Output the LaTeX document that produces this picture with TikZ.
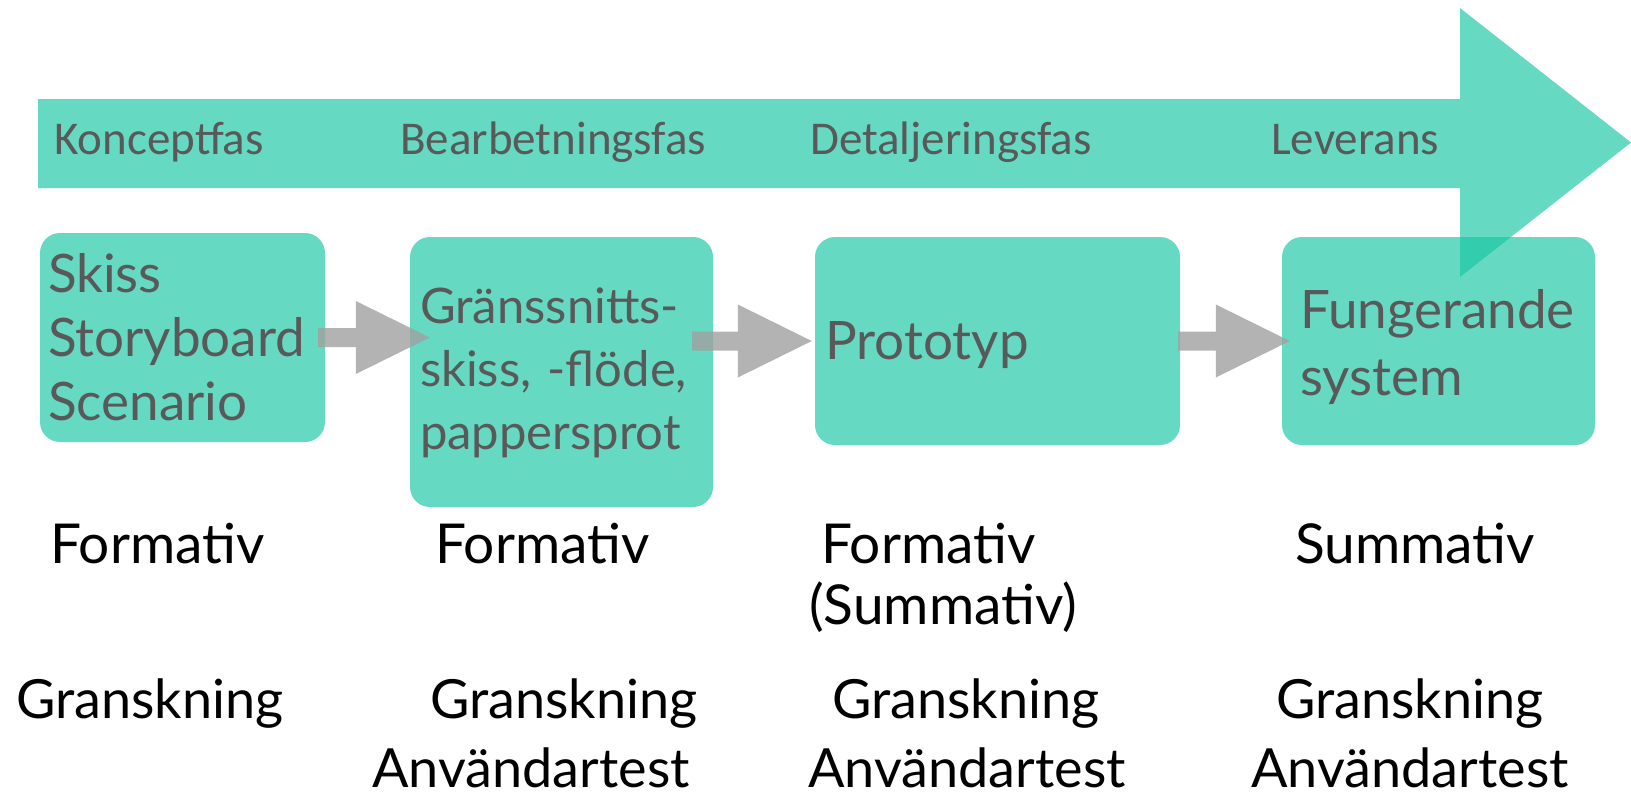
\documentclass[tikz,border=0pt]{standalone}
\usepackage{fontspec}
\setmainfont{Lato}
\newfontfamily\phasefont{Carlito}
\usetikzlibrary{arrows.meta}
\definecolor{flowgreen}{RGB}{26,198,163}
\definecolor{labelgray}{RGB}{89,89,89}
\definecolor{arrowgray}{RGB}{160,160,160}

\begin{document}
\begin{tikzpicture}[x=1pt,y=1pt,yscale=-1,xscale=1,
	stagebox/.style={rounded corners=20pt,fill=flowgreen,fill opacity=0.67,text opacity=1,text=labelgray,align=left,inner ysep=0pt,font=\fontsize{53}{64}\selectfont},
	phaselabel/.style={anchor=base west,inner sep=0pt,text=labelgray,font=\phasefont\fontsize{47}{56}\selectfont},
	evaltext/.style={anchor=base west,inner sep=0pt,font=\fontsize{55}{60}\selectfont},
	methodtext/.style={anchor=base west,inner sep=0pt,font=\fontsize{54}{60}\selectfont},
	flowarrow/.style={draw=arrowgray,line width=19pt,-{Triangle[width=73pt,length=74pt,line width=0pt]}}]
	\useasboundingbox (0,0) rectangle (1631,796);
	
	%Big arrow
	\fill[flowgreen,fill opacity=0.67] (38,99) -- (1460,99) -- (1460,8) -- (1631,142.5) -- (1460,277) -- (1460,188) -- (38,188) -- cycle;
	
	% Phase labels
	\node[phaselabel] (konzept) at (54,154) {Konceptfas};
	\node[phaselabel] (bearb) at (400,154) {Bearbetningsfas};
	\node[phaselabel] (detalj) at (810,154) {Detaljeringsfas};
	\node[phaselabel] (lever) at (1271,154) {Leverans};
	
	%Rounded Rect
	\node[stagebox,text width=269pt,inner xsep=8pt,minimum height=209pt] (skiss) at (182.5,337.5) {Skiss\\Storyboard\\Scenario};
	%Rounded Rect
	\node[stagebox,text width=283pt,inner xsep=10pt,minimum height=270pt,text depth=132pt,font=\fontsize{49}{63}\selectfont] (gui) at (561.5,372) {Gränssnitts-\\skiss, -flöde,\\pappersprot};
	%Rounded Rect
	\node[stagebox,text width=345pt,inner xsep=10pt,minimum height=208pt,text depth=0pt] (proto) at (997.5,341) {Prototyp};
	%Rounded Rect
	\node[stagebox,text width=277pt,inner xsep=18pt,minimum height=208pt,text depth=64pt,font=\fontsize{53}{67}\selectfont] (system) at (1438.5,341) {Fungerande\\system};
	
	%Gray arrows
	\begin{scope}[transparency group,opacity=0.8]
		\draw[flowarrow] ([xshift=-7pt]skiss.east) -- ([xshift=20pt]skiss.east -| gui.west);
		\draw[flowarrow] ([xshift=-21pt]proto.west -| gui.east) -- ([xshift=-3pt]proto.west);
		\draw[flowarrow] ([xshift=-2pt]proto.east) -- ([xshift=8pt]system.west);
	\end{scope}
	
	% Text Node
	\node[evaltext] (form1) at (50,563) {Formativ};
	\node[evaltext] (form2) at (435,563) {Formativ};
	\node[evaltext] (form3) at (821,563) {Formativ};
	\node[evaltext] (summ3) at (809,624) {(Summativ)};
	\node[evaltext] (summ4) at (1295,563) {Summativ};
	% Text Node
	\node[methodtext] (gran1) at (16,718) {Granskning};
	\node[methodtext] (gran2) at (430,718) {Granskning};
	\node[methodtext] (gran3) at (832,718) {Granskning};
	\node[methodtext] (gran4) at (1276,718) {Granskning};
	\node[methodtext] (anv2) at (372,787) {Användartest};
	\node[methodtext] (anv3) at (808,787) {Användartest};
	\node[methodtext] (anv4) at (1251,787) {Användartest};
\end{tikzpicture}
\end{document}
